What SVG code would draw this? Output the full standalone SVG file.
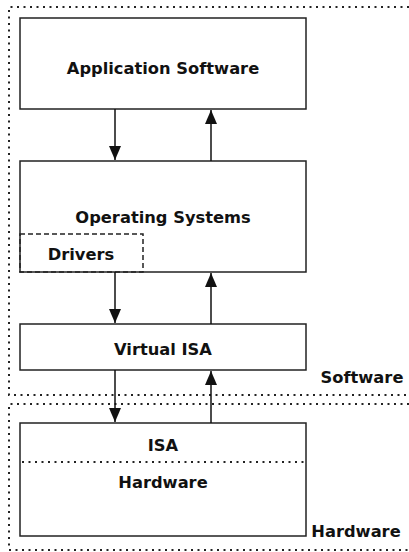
<svg xmlns="http://www.w3.org/2000/svg" width="409" height="552" viewBox="0 0 409 552">
<style>
.box{fill:#fff;stroke:#222;stroke-width:1.5}
.dot{fill:none;stroke:#222;stroke-width:2;stroke-dasharray:2,4.5}
.dash{fill:none;stroke:#222;stroke-width:1.5;stroke-dasharray:5,3}
.lbl{font-family:"DejaVu Sans","Liberation Sans",sans-serif;font-weight:bold;font-size:16.3px;fill:#111;text-anchor:middle;dominant-baseline:central}
.conn{stroke:#111;stroke-width:1.5;fill:none}
</style>
<defs>
<marker id="ah" markerWidth="14" markerHeight="12" refX="14" refY="6" orient="auto" markerUnits="userSpaceOnUse">
<path d="M0,0 L14,6 L0,12 Z" fill="#111"/>
</marker>
</defs>
<g id="software-region">
<path class="dot" d="M409,7 H9 V395 H409"/>
<text class="lbl" x="362" y="377">Software</text>
</g>
<g id="hardware-region">
<path class="dot" d="M409,404 H9 V550 H409"/>
<text class="lbl" x="356" y="531">Hardware</text>
</g>
<g id="app">
<rect class="box" x="20" y="18" width="286" height="91"/>
<text class="lbl" x="163" y="68">Application Software</text>
</g>
<g id="os">
<rect class="box" x="20" y="161" width="286" height="111"/>
<text class="lbl" x="163" y="217">Operating Systems</text>
</g>
<g id="drivers">
<rect class="dash" x="20" y="234" width="123" height="38"/>
<text class="lbl" x="81" y="254">Drivers</text>
</g>
<g id="visa">
<rect class="box" x="20" y="324" width="286" height="46"/>
<text class="lbl" x="163" y="349">Virtual ISA</text>
</g>
<g id="hw">
<rect class="box" x="20" y="423" width="286" height="113"/>
<line class="dot" x1="22" y1="462" x2="304" y2="462"/>
<text class="lbl" x="163" y="445">ISA</text>
<text class="lbl" x="163" y="482">Hardware</text>
</g>
<g id="connectors">
<line class="conn" x1="115" y1="109" x2="115" y2="160" marker-end="url(#ah)"/>
<line class="conn" x1="211" y1="161" x2="211" y2="110" marker-end="url(#ah)"/>
<line class="conn" x1="115" y1="272" x2="115" y2="323" marker-end="url(#ah)"/>
<line class="conn" x1="211" y1="324" x2="211" y2="273" marker-end="url(#ah)"/>
<line class="conn" x1="115" y1="370" x2="115" y2="422" marker-end="url(#ah)"/>
<line class="conn" x1="211" y1="423" x2="211" y2="371" marker-end="url(#ah)"/>
</g>
</svg>
